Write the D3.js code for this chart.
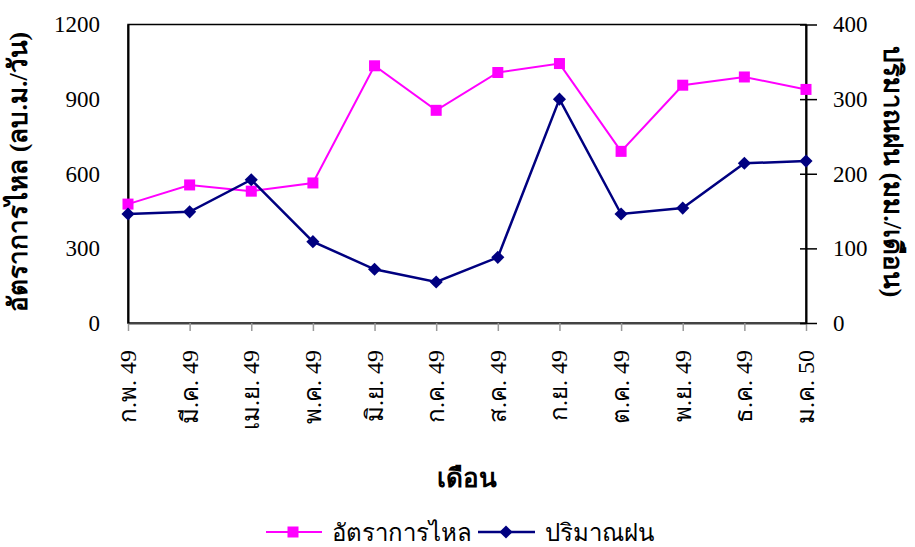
<!DOCTYPE html>
<html lang="en">
<head>
  <meta charset="UTF-8">
  <title>อัตราการไหล และ ปริมาณฝน</title>
  <script src="https://cdn.jsdelivr.net/npm/d3@7"></script>
  <style>
    body { margin: 0; background: #fff; }
    svg text { font-family: "Liberation Serif", "Times New Roman", "DejaVu Serif", serif; fill: #000; }
    .tick-label { font-size: 23px; }
    .month-label { font-size: 24px; }
    .axis-title { font-size: 26px; font-weight: bold; }
    .legend-text { font-size: 24px; }
  </style>
</head>
<body>
  <div id="container"></div>

  <script>
    const months = ["ก.พ. 49", "มี.ค. 49", "เม.ย. 49", "พ.ค. 49", "มิ.ย. 49", "ก.ค. 49",
                    "ส.ค. 49", "ก.ย. 49", "ต.ค. 49", "พ.ย. 49", "ธ.ค. 49", "ม.ค. 50"];
    const flowRate = [478, 555, 530, 563, 1034, 855, 1007, 1043, 690, 956, 989, 939];
    const rainfall = [146, 149, 192, 109, 72, 55, 88, 300, 146, 154, 214, 217];
    const leftTicks = [0, 300, 600, 900, 1200];
    const rightTicks = [0, 100, 200, 300, 400];

    const pink = "#FF00FF";
    const navy = "#000080";

    const width = 915, height = 547;
    const margin = { top: 24.5, right: 109, bottom: 224, left: 128 };
    const w = width - margin.left - margin.right;
    const h = height - margin.top - margin.bottom;

    const root = d3.select("#container").append("svg")
      .attr("width", width)
      .attr("height", height);

    const svg = root.append("g")
      .attr("transform", `translate(${margin.left},${margin.top})`);

    const x = d3.scalePoint().domain(months).range([0, w]).padding(0);
    const yLeft = d3.scaleLinear().domain([0, 1200]).range([h, 0]);
    const yRight = d3.scaleLinear().domain([0, 400]).range([h, 0]);

    // plot frame
    svg.append("rect")
      .attr("width", w).attr("height", h)
      .attr("fill", "none").attr("stroke", "#000").attr("stroke-width", 1.5);

    // bottom axis
    const xAxis = svg.append("g")
      .attr("transform", `translate(0,${h})`)
      .call(d3.axisBottom(x).tickSizeOuter(0).tickSizeInner(8).tickFormat(""));
    xAxis.select(".domain").attr("stroke", "#444").attr("stroke-width", 2);
    xAxis.selectAll(".tick line").attr("stroke", "#999").attr("stroke-width", 1.5);

    svg.append("g").selectAll("text")
      .data(months)
      .join("text")
      .attr("class", "month-label")
      .attr("transform", d => `translate(${x(d) + 8},${h + 27}) rotate(-90)`)
      .attr("text-anchor", "end")
      .text(d => d);

    // left axis
    const yAxisL = svg.append("g")
      .call(d3.axisLeft(yLeft).tickValues(leftTicks).tickFormat(d3.format("d"))
        .tickSize(0).tickPadding(28));
    yAxisL.attr("font-size", null).attr("font-family", null);
    yAxisL.select(".domain").attr("stroke", "#000").attr("stroke-width", 2);
    yAxisL.selectAll("text").attr("class", "tick-label");

    // right axis with crossing ticks
    const yAxisR = svg.append("g")
      .attr("transform", `translate(${w},0)`)
      .call(d3.axisRight(yRight).tickValues(rightTicks).tickSize(11).tickSizeOuter(0).tickPadding(16));
    yAxisR.attr("font-size", null).attr("font-family", null);
    yAxisR.select(".domain").attr("stroke", "#000").attr("stroke-width", 2);
    yAxisR.selectAll(".tick line").attr("x1", -6).attr("stroke", "#000").attr("stroke-width", 1.5);
    yAxisR.selectAll("text").attr("class", "tick-label");

    // lines
    const flowLine = d3.line().x((d, i) => x(months[i])).y(d => yLeft(d));
    const rainLine = d3.line().x((d, i) => x(months[i])).y(d => yRight(d));

    svg.append("path")
      .datum(flowRate)
      .attr("d", flowLine)
      .attr("fill", "none")
      .attr("stroke", pink)
      .attr("stroke-width", 2);

    svg.selectAll(".square-marker")
      .data(flowRate)
      .join("rect")
      .attr("class", "square-marker")
      .attr("x", (d, i) => x(months[i]) - 5.5)
      .attr("y", d => yLeft(d) - 5.5)
      .attr("width", 11)
      .attr("height", 11)
      .attr("fill", pink);

    svg.append("path")
      .datum(rainfall)
      .attr("d", rainLine)
      .attr("fill", "none")
      .attr("stroke", navy)
      .attr("stroke-width", 2.5);

    const diamond = d3.symbol().type(d3.symbolDiamond2).size(110);
    svg.selectAll(".diamond-marker")
      .data(rainfall)
      .join("path")
      .attr("class", "diamond-marker")
      .attr("d", diamond)
      .attr("transform", (d, i) => `translate(${x(months[i])},${yRight(d)})`)
      .attr("fill", navy);

    // axis titles
    svg.append("text")
      .attr("class", "axis-title")
      .attr("transform", `translate(${-101},${h / 2 - 2}) rotate(-90)`)
      .attr("text-anchor", "middle")
      .text("อัตราการไหล (ลบ.ม./วัน)");

    svg.append("text")
      .attr("class", "axis-title")
      .attr("transform", `translate(${w + 78},${h / 2 - 2}) rotate(90)`)
      .attr("text-anchor", "middle")
      .text("ปริมาณฝน (มม./เดือน)");

    svg.append("text")
      .attr("class", "axis-title")
      .attr("x", w / 2)
      .attr("y", h + 164)
      .attr("text-anchor", "middle")
      .text("เดือน");

    // legend
    const legend = root.append("g").attr("transform", "translate(266,532)");

    legend.append("line")
      .attr("x1", 0).attr("x2", 56).attr("y1", 0).attr("y2", 0)
      .attr("stroke", pink).attr("stroke-width", 2);
    legend.append("rect")
      .attr("x", 27 - 5.5).attr("y", -5.5).attr("width", 11).attr("height", 11)
      .attr("fill", pink);
    legend.append("text")
      .attr("class", "legend-text")
      .attr("x", 66).attr("y", 9)
      .text("อัตราการไหล");

    legend.append("line")
      .attr("x1", 212).attr("x2", 269).attr("y1", 0).attr("y2", 0)
      .attr("stroke", navy).attr("stroke-width", 2.5);
    legend.append("path")
      .attr("d", diamond)
      .attr("transform", "translate(240,0)")
      .attr("fill", navy);
    legend.append("text")
      .attr("class", "legend-text")
      .attr("x", 279).attr("y", 9)
      .text("ปริมาณฝน");
  </script>
</body>
</html>
